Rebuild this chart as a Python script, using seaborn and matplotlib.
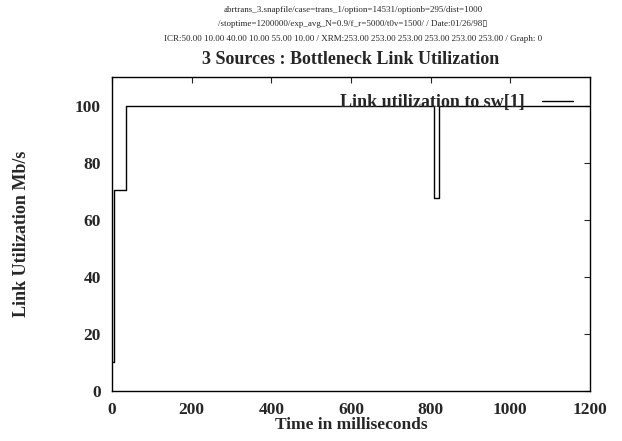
import matplotlib
matplotlib.use("Agg")
import matplotlib.pyplot as plt
import seaborn as sns
import pandas as pd

# step data (time in ms, utilization in Mb/s)
time_ms = [2, 4, 34, 36, 808, 820, 1200]
util_mbs = [10, 70.5, 85, 100, 67.5, 100, 100]
x_ticks = [0, 200, 400, 600, 800, 1000, 1200]
y_ticks = [0, 20, 40, 60, 80, 100]

header_lines = [
    "abrtrans_3.snapfile/case=trans_1/option=14531/optionb=295/dist=1000",
    "/stoptime=1200000/exp_avg_N=0.9/f_r=5000/t0v=1500/ / Date:01/26/98\u25af",
    "ICR:50.00 10.00 40.00 10.00 55.00 10.00 / XRM:253.00 253.00 253.00 253.00 253.00 253.00 / Graph: 0",
]

sns.set_style("white")
plt.rcParams["font.family"] = ["Liberation Serif", "DejaVu Serif"]

df = pd.DataFrame({"t": time_ms, "u": util_mbs})

W, H = 622, 441
fig = plt.figure(figsize=(W / 100, H / 100), dpi=100)
ax = fig.add_axes([112 / W, 1 - 391 / H, 478 / W, 314 / H])
sns.lineplot(data=df, x="t", y="u", ax=ax, color="black", linewidth=1.0,
             drawstyle="steps-post", label="Link utilization to sw[1]")

ax.set_xlim(0, 1200)
ax.set_ylim(0, 110)
ax.set_xticks(x_ticks)
ax.set_yticks(y_ticks)
ax.tick_params(direction="in", top=True, right=True, length=4, width=0.8,
               labelsize=12.5, pad=8)
for lab in ax.get_xticklabels() + ax.get_yticklabels():
    lab.set_fontweight("bold")
for sp in ax.spines.values():
    sp.set_linewidth(1.0)
    sp.set_color("black")

ax.set_xlabel("")
ax.set_ylabel("")
fig.text(351 / W, 1 - 425 / H, "Time in milliseconds", ha="center",
         va="center", fontsize=12.5, fontweight="bold")
fig.text(22 / W, 1 - 234 / H, "Link Utilization Mb/s", ha="center",
         va="center", rotation=90, fontsize=13, fontweight="bold")
fig.text(351 / W, 1 - 59 / H, "3 Sources : Bottleneck Link Utilization",
         ha="center", va="center", fontsize=13, fontweight="bold")

leg = ax.legend(loc="upper right", frameon=False, markerfirst=False,
                prop={"weight": "bold", "size": 13}, handlelength=1.72,
                borderaxespad=0.0, bbox_to_anchor=(0.979, 0.969),
                handletextpad=0.94)

for i, line in enumerate(header_lines):
    fig.text(353 / W, 1 - (10 + 14.5 * i) / H, line, ha="center",
             va="center", fontsize=6.5)

fig.savefig("out.png", dpi=100)
